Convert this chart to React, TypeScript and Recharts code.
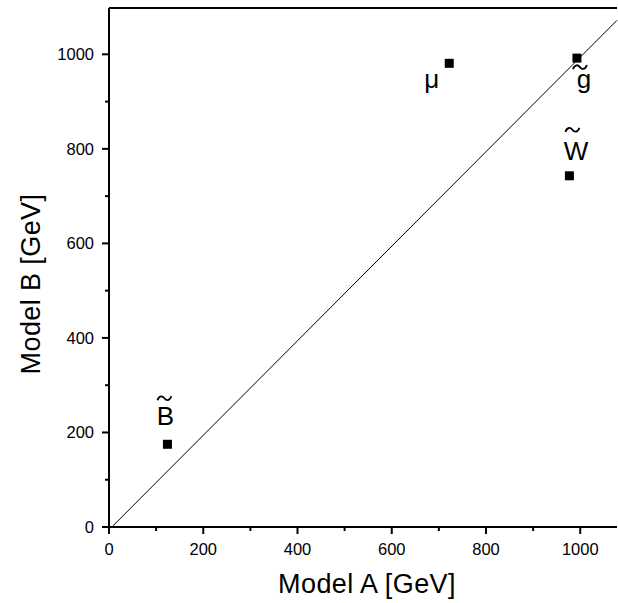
import React from "react";
import { ScatterChart, Scatter, XAxis, YAxis, ReferenceLine } from "recharts";

const particles = ["B", "μ", "g", "W"];
const modelA = [124, 722, 993, 977];
const modelB = [175, 981, 992, 743];
const hasTilde = [true, false, true, true];

const axisTicks = [0, 100, 200, 300, 400, 500, 600, 700, 800, 900, 1000];
const diagonal = [
  { x: 6, y: 0 },
  { x: 1078, y: 1072 },
];

const FONT = "'Liberation Sans', Arial, Helvetica, sans-serif";

// label offsets from the marker centre (text baseline + tilde centre)
const labelPos: Record<string, { dx: number; dy: number; tx: number; ty: number }> = {
  B: { dx: -2, dy: -19, tx: -3, ty: -46 },
  "μ": { dx: -17.5, dy: 25, tx: 0, ty: 0 },
  g: { dx: 7, dy: 29.5, tx: 3, ty: 9 },
  W: { dx: 6.5, dy: -16, tx: 3, ty: -46 },
};

const data = particles.map((name, i) => ({
  name,
  x: modelA[i],
  y: modelB[i],
  tilde: hasTilde[i],
}));

const Marker = (props: any) => {
  const { cx, cy, payload } = props;
  const p = labelPos[payload.name];
  const tx = cx + p.tx;
  const ty = cy + p.ty;
  return (
    <g>
      <rect x={cx - 4.5} y={cy - 4.5} width={9} height={9} fill="#000" />
      <text
        x={cx + p.dx}
        y={cy + p.dy}
        textAnchor="middle"
        fontFamily={FONT}
        fontSize={26}
        fill="#000"
      >
        {payload.name}
      </text>
      {payload.tilde && (
        <path
          d={`M ${tx - 7} ${ty + 2} C ${tx - 5} ${ty - 3}, ${tx - 2} ${ty - 2.5}, ${tx} ${ty} S ${tx + 5} ${ty + 3}, ${tx + 7} ${ty - 2}`}
          stroke="#000"
          strokeWidth={1.8}
          fill="none"
        />
      )}
    </g>
  );
};

const XTick = (props: any) => {
  const { x, y, payload } = props;
  const major = payload.value % 200 === 0;
  return (
    <g>
      <line x1={x} y1={y} x2={x} y2={y + (major ? 7 : 4)} stroke="#000" strokeWidth={2} />
      {major && (
        <text x={x} y={y + 28} textAnchor="middle" fontFamily={FONT} fontSize={16.5} fill="#000">
          {payload.value}
        </text>
      )}
    </g>
  );
};

const YTick = (props: any) => {
  const { x, y, payload } = props;
  const major = payload.value % 200 === 0;
  return (
    <g>
      <line x1={x} y1={y} x2={x - (major ? 7 : 4)} y2={y} stroke="#000" strokeWidth={2} />
      {major && (
        <text x={x - 15} y={y + 6} textAnchor="end" fontFamily={FONT} fontSize={16.5} fill="#000">
          {payload.value}
        </text>
      )}
    </g>
  );
};

export default function App() {
  return (
    <div style={{ position: "absolute", left: 0, top: 0, width: 618, height: 603, background: "#fff" }}>
      <ScatterChart width={618} height={603} margin={{ top: 8, right: 1, bottom: 0, left: 0 }}>
        <XAxis
          type="number"
          dataKey="x"
          domain={[0, 1078]}
          ticks={axisTicks}
          tick={<XTick />}
          tickLine={false}
          tickSize={0}
          tickMargin={0}
          height={76}
          axisLine={{ stroke: "#000", strokeWidth: 2 }}
          allowDataOverflow
          interval={0}
          label={{
            content: () => (
              <text x={367} y={593} textAnchor="middle" fontFamily={FONT} fontSize={27} letterSpacing={0.4} fill="#000">
                Model A [GeV]
              </text>
            ),
          }}
        />
        <YAxis
          type="number"
          dataKey="y"
          domain={[0, 1098]}
          ticks={axisTicks}
          tick={<YTick />}
          tickLine={false}
          tickSize={0}
          tickMargin={0}
          width={109}
          axisLine={{ stroke: "#000", strokeWidth: 2 }}
          allowDataOverflow
          interval={0}
          label={{
            content: () => (
              <text
                x={40}
                y={284}
                textAnchor="middle"
                transform="rotate(-90 40 284)"
                fontFamily={FONT}
                fontSize={27}
                letterSpacing={0.4}
                fill="#000"
              >
                Model B [GeV]
              </text>
            ),
          }}
        />
        <ReferenceLine y={1098} stroke="#000" strokeWidth={2} />
        <ReferenceLine segment={diagonal} stroke="#000" strokeWidth={1} />
        <Scatter data={data} shape={<Marker />} isAnimationActive={false} />
      </ScatterChart>
    </div>
  );
}
